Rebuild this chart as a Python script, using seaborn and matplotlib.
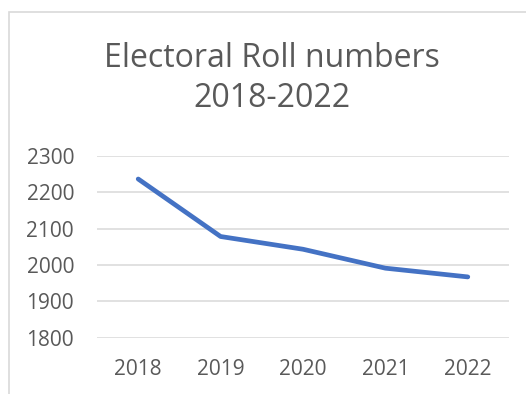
import matplotlib
matplotlib.use("Agg")
import matplotlib.pyplot as plt
import seaborn as sns
import pandas as pd
from matplotlib.patches import Rectangle

years = ["2018", "2019", "2020", "2021", "2022"]
roll_numbers = [2236, 2078, 2043, 1991, 1967]
y_ticks = [1800, 1900, 2000, 2100, 2200, 2300]
title_lines = ["Electoral Roll numbers", "2018-2022"]

sns.set_theme(style="white")
plt.rcParams["font.family"] = ["Open Sans", "DejaVu Sans"]

text_grey = "#595959"
grid_grey = "#D9D9D9"
line_blue = "#4472C4"

W, H = 526, 394
fig = plt.figure(figsize=(W / 100, H / 100), dpi=100)
fig.patch.set_facecolor("white")

# chart-area frame (runs off the right and bottom edges)
fig.patches.append(Rectangle((8.5 / W, -0.05), 1.2, 1 - 11.5 / H + 0.05,
                             transform=fig.transFigure, fill=False,
                             edgecolor=grid_grey, linewidth=1.2, zorder=0))

left, right = 97 / W, 509 / W
top, bottom = 1 - 155.7 / H, 1 - 337.7 / H
ax = fig.add_axes([left, bottom, right - left, top - bottom])

df = pd.DataFrame({"year": years, "roll": roll_numbers})
df["pos"] = range(len(years))
sns.lineplot(data=df, x="pos", y="roll", ax=ax, color=line_blue,
             linewidth=3.4, solid_capstyle="round", solid_joinstyle="round",
             zorder=3)

ax.set_xlim(-0.5, len(years) - 0.5)
ax.set_ylim(y_ticks[0], y_ticks[-1])
ax.set_xticks(range(len(years)))
ax.set_xticklabels(years)
ax.set_yticks(y_ticks)
ax.set_yticklabels([str(v) for v in y_ticks])

ax.grid(axis="y", color=grid_grey, linewidth=1.1)
ax.set_axisbelow(True)
for s in ax.spines.values():
    s.set_visible(False)
ax.tick_params(axis="both", length=0, labelsize=15, labelcolor=text_grey)
ax.tick_params(axis="y", pad=16.5)
ax.tick_params(axis="x", pad=15.5)
ax.set_xlabel("")
ax.set_ylabel("")

for line, base_y in zip(title_lines, [67, 107]):
    fig.text(272 / W, 1 - base_y / H, line, ha="center", va="baseline",
             fontsize=23, color=text_grey)

fig.savefig("out.png", dpi=100, facecolor="white")
